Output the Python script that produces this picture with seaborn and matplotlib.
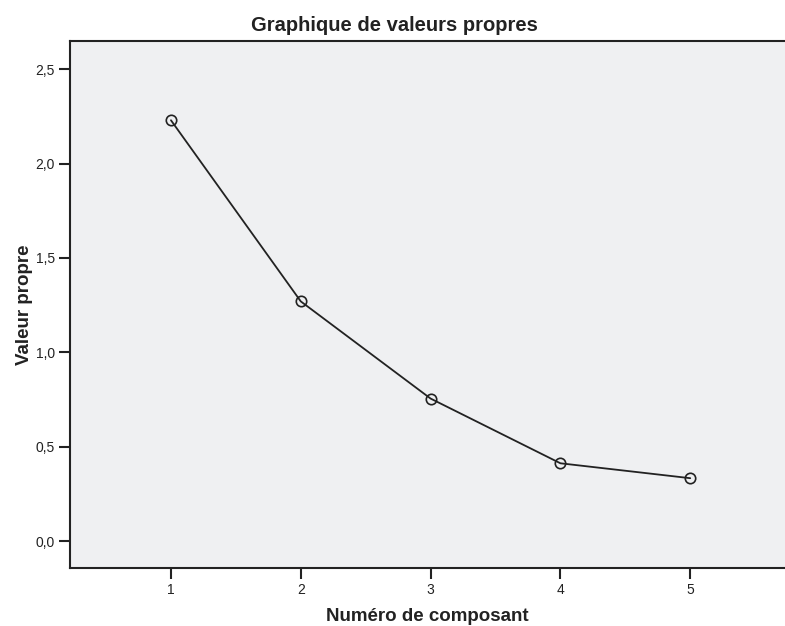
import matplotlib
matplotlib.use("Agg")
import matplotlib.pyplot as plt
import seaborn as sns
import pandas as pd

composants = [1, 2, 3, 4, 5]
valeurs_propres = [2.23, 1.27, 0.755, 0.412, 0.333]
yticks = [0.0, 0.5, 1.0, 1.5, 2.0, 2.5]
ytick_labels = ["0,0", "0,5", "1,0", "1,5", "2,0", "2,5"]

sns.set_theme(style="white")
plt.rcParams["font.family"] = ["Liberation Sans", "DejaVu Sans"]

df = pd.DataFrame({"comp": composants, "val": valeurs_propres})

fig = plt.figure(figsize=(7.85, 6.26), dpi=100)
ax = fig.add_axes([0.0892, 0.0931, 0.9108, 0.8414])
ax.set_facecolor("#EFF0F2")

sns.lineplot(data=df, x="comp", y="val", ax=ax, color="#222222", linewidth=1.3,
             marker="o", markersize=7.5, markerfacecolor="none",
             markeredgecolor="#222222", markeredgewidth=1.2)

ax.set_xlim(0.2225, 5.73)
ax.set_ylim(-0.1415, 2.65)
ax.set_xticks(composants)
ax.set_xticklabels([str(c) for c in composants])
ax.set_yticks(yticks)
ax.set_yticklabels(ytick_labels)

for name, s in ax.spines.items():
    s.set_color("#222222")
    s.set_linewidth(1.5)
    s.set_visible(name != "right")

ax.tick_params(axis="both", direction="out", length=8, width=1.5, color="#222222",
               labelsize=10, labelcolor="#222222", pad=3, left=True, bottom=True)

ax.set_xlabel("Numéro de composant", fontsize=13.5, fontweight="bold", color="#222222", labelpad=8)
ax.set_ylabel("Valeur propre", fontsize=13.5, fontweight="bold", color="#222222", labelpad=2)
fig.text(0.5025, 0.96, "Graphique de valeurs propres", ha="center", va="center",
         fontsize=14.5, fontweight="bold", color="#222222")

fig.savefig("out.png", dpi=100, facecolor="white")
